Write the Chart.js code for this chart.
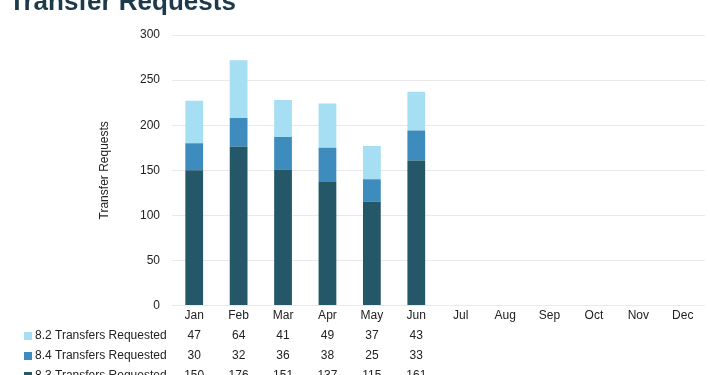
<!DOCTYPE html>
<html>
<head>
    <script src="https://cdn.jsdelivr.net/npm/chart.js"></script>
    <style>
        html, body { margin: 0; padding: 0; background: #fff; overflow: hidden; }
    </style>
</head>
<body>
    <div style="width: 710px; height: 375px;">
        <canvas id="transferChart" width="710" height="375"></canvas>
    </div>

    <script>
        const months = ['Jan', 'Feb', 'Mar', 'Apr', 'May', 'Jun', 'Jul', 'Aug', 'Sep', 'Oct', 'Nov', 'Dec'];
        const transfers83 = [150, 176, 151, 137, 115, 161, null, null, null, null, null, null];
        const transfers84 = [30, 32, 36, 38, 25, 33, null, null, null, null, null, null];
        const transfers82 = [47, 64, 41, 49, 37, 43, null, null, null, null, null, null];
        const yTicks = [0, 50, 100, 150, 200, 250, 300];

        const FONT = '"Liberation Sans", Arial, Helvetica, sans-serif';

        // title sits partly above the top edge, like the screenshot
        const titlePlugin = {
            id: 'cutTitle',
            afterDraw(chart) {
                const ctx = chart.ctx;
                ctx.save();
                ctx.font = 'bold 26px ' + FONT;
                ctx.fillStyle = '#1c3a4a';
                ctx.textAlign = 'left';
                ctx.textBaseline = 'alphabetic';
                ctx.fillText('Transfer Requests', 9, 10);
                ctx.restore();
            }
        };

        // data table under the x axis
        const tablePlugin = {
            id: 'dataTable',
            afterDraw(chart) {
                const ctx = chart.ctx;
                const xScale = chart.scales.x;
                const rows = [
                    { label: '8.2 Transfers Requested', values: transfers82, color: '#a6def3' },
                    { label: '8.4 Transfers Requested', values: transfers84, color: '#3e8cbd' },
                    { label: '8.3 Transfers Requested', values: transfers83, color: '#245768' }
                ];
                ctx.save();
                ctx.font = '12px ' + FONT;
                ctx.fillStyle = '#222';
                ctx.textBaseline = 'middle';
                rows.forEach((row, i) => {
                    const y = 336 + i * 20;
                    ctx.fillStyle = row.color;
                    ctx.fillRect(24, y - 4, 8, 8);
                    ctx.fillStyle = '#222';
                    ctx.textAlign = 'left';
                    ctx.fillText(row.label, 35, y);
                    ctx.textAlign = 'center';
                    row.values.forEach((v, j) => {
                        if (v !== null) ctx.fillText(String(v), xScale.getPixelForValue(j), y);
                    });
                });
                ctx.restore();
            }
        };

        new Chart(document.getElementById('transferChart'), {
            type: 'bar',
            data: {
                labels: months,
                datasets: [
                    { label: '8.3 Transfers Requested', data: transfers83, backgroundColor: '#245768' },
                    { label: '8.4 Transfers Requested', data: transfers84, backgroundColor: '#3e8cbd' },
                    { label: '8.2 Transfers Requested', data: transfers82, backgroundColor: '#a6def3' }
                ]
            },
            options: {
                responsive: false,
                animation: false,
                layout: { padding: { left: 93, right: 5, top: 35, bottom: 49 } },
                datasets: { bar: { categoryPercentage: 1, barPercentage: 0.4 } },
                scales: {
                    x: {
                        stacked: true,
                        grid: { display: false, drawTicks: false },
                        border: { display: false },
                        ticks: { color: '#222', font: { family: FONT, size: 12 }, padding: 3, maxRotation: 0 }
                    },
                    y: {
                        stacked: true,
                        min: 0,
                        max: 300,
                        afterFit(scale) { scale.width = 79; },
                        afterBuildTicks(scale) { scale.ticks = yTicks.map(v => ({ value: v })); },
                        grid: { color: '#e9e9e9', drawTicks: false },
                        border: { display: false },
                        ticks: { color: '#222', font: { family: FONT, size: 12 }, padding: 12 },
                        title: {
                            display: true,
                            text: 'Transfer Requests',
                            color: '#222',
                            font: { family: FONT, size: 12 }
                        }
                    }
                },
                plugins: {
                    legend: { display: false },
                    tooltip: { enabled: false }
                }
            },
            plugins: [titlePlugin, tablePlugin]
        });
    </script>
</body>
</html>
